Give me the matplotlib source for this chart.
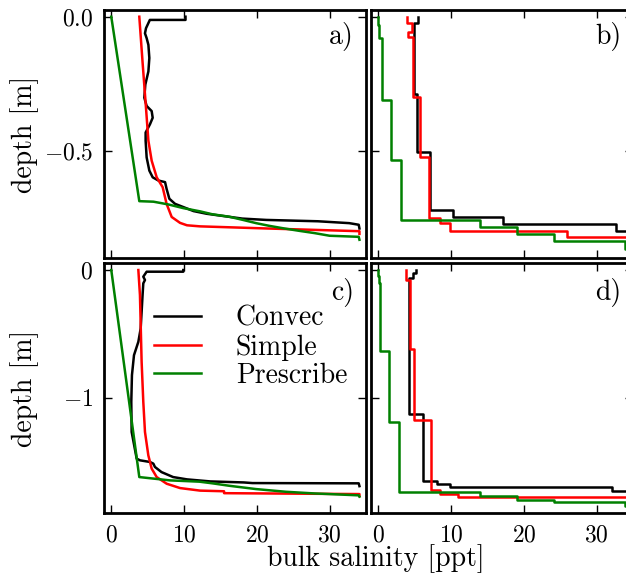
import matplotlib
matplotlib.use("Agg")
import matplotlib.pyplot as plt

# Computer Modern look (cmr10 ships with matplotlib), minus sign via mathtext
plt.rcParams['font.family'] = 'serif'
plt.rcParams['font.serif'] = ['cmr10']
plt.rcParams['mathtext.fontset'] = 'cm'
plt.rcParams['axes.formatter.use_mathtext'] = True

# --- panel a) : continuous profiles, thin ice ---
a_convec_S = [10.2, 10.2, 5.3, 4.77, 4.63, 4.86, 5.1, 5.23, 5.1, 4.68, 4.54, 4.86, 5.55,
              5.69, 5.32, 4.72, 4.72, 4.86, 5.23, 5.69, 6.47, 7.39, 7.6, 7.98, 8.76, 9.9,
              11.3, 13.1, 18.0, 21.3, 28.4, 32.7, 34.0, 34.1]
a_convec_d = [0.0, -0.012, -0.012, -0.043, -0.062, -0.08, -0.105, -0.154, -0.204, -0.253,
              -0.302, -0.333, -0.352, -0.377, -0.401, -0.432, -0.463, -0.525, -0.574,
              -0.599, -0.611, -0.617, -0.642, -0.679, -0.698, -0.710, -0.725, -0.735,
              -0.753, -0.758, -0.763, -0.770, -0.776, -0.790]
a_simple_S = [3.85, 4.3, 4.77, 5.1, 5.55, 6.24, 7.06, 7.6, 8.3, 9.45, 10.4, 12.2, 21.5, 34.1, 34.1]
a_simple_d = [0.0, -0.17, -0.34, -0.463, -0.537, -0.599, -0.636, -0.698, -0.747, -0.769,
              -0.778, -0.782, -0.790, -0.800, -0.81]
a_presc_S = [0, 3.85, 5.8, 7.8, 9.9, 12.2, 13.9, 16.2, 18.1, 19.9, 21.7, 23.8, 25.9, 27.9,
             30.0, 34.0, 34.1]
a_presc_d = [0, -0.688, -0.690, -0.700, -0.714, -0.726, -0.737, -0.746, -0.758, -0.770,
             -0.780, -0.790, -0.799, -0.807, -0.817, -0.821, -0.832]

# --- panel b) : layered (step) profiles, thin ice ---
b_convec_S = [5.5, 4.95, 5.28, 7.1, 10.2, 17.1, 32.6, 34.2]
b_convec_d = [0.0, -0.022, -0.29, -0.506, -0.722, -0.747, -0.772, -0.80]
b_simple_S = [3.9, 4.6, 4.1, 4.72, 5.73, 7.0, 8.5, 9.9, 25.9, 34.2]
b_simple_d = [0.0, -0.025, -0.056, -0.074, -0.30, -0.525, -0.749, -0.770, -0.798, -0.823]
b_presc_S = [0, 0.14, 0.46, 0.55, 1.74, 3.07, 14.0, 19.0, 24.1, 33.9, 34.2]
b_presc_d = [0, -0.03, -0.08, -0.10, -0.309, -0.535, -0.760, -0.786, -0.810, -0.835, -0.866]

# --- panel c) : continuous profiles, thick ice ---
c_convec_S = [9.9, 9.9, 4.86, 4.4, 4.63, 4.4, 4.3, 4.04, 3.72, 3.12, 2.84, 2.75, 2.8, 3.49,
              3.94, 5.32, 5.78, 6.0, 6.9, 8.5, 10.4, 13.6, 18.2, 19.4, 34.0, 34.1]
c_convec_d = [0, -0.013, -0.013, -0.052, -0.078, -0.104, -0.196, -0.457, -0.561, -0.666,
              -0.822, -1.031, -1.266, -1.475, -1.488, -1.501, -1.514, -1.54, -1.58, -1.619,
              -1.637, -1.653, -1.661, -1.666, -1.668, -1.69]
c_simple_S = [3.72, 3.94, 4.17, 4.4, 4.63, 5.09, 5.55, 6.24, 7.61, 9.45, 12.2, 15.5, 15.5, 34.1, 34.1]
c_simple_d = [0, -0.196, -0.718, -1.031, -1.266, -1.449, -1.553, -1.619, -1.671, -1.705,
              -1.725, -1.730, -1.745, -1.752, -1.767]
c_presc_S = [0, 3.85, 8.07, 12.1, 13.9, 16.2, 19.9, 24.0, 27.9, 30.0, 34.0, 34.1]
c_presc_d = [0, -1.619, -1.645, -1.655, -1.668, -1.687, -1.713, -1.734, -1.747, -1.752,
             -1.762, -1.772]

# --- panel d) : layered (step) profiles, thick ice ---
d_convec_S = [5.2, 4.8, 4.27, 6.19, 8.03, 9.86, 32.1, 34.2]
d_convec_d = [0, -0.026, -0.06, -1.123, -1.653, -1.671, -1.695, -1.725]
d_simple_S = [3.8, 4.36, 4.95, 7.2, 8.49, 10.9, 34.2]
d_simple_d = [0, -0.078, -0.619, -1.175, -1.723, -1.749, -1.775]
d_presc_S = [0, 0.14, 0.23, 1.51, 2.89, 14.0, 19.0, 24.1, 33.9, 34.2]
d_presc_d = [0, -0.05, -0.10, -0.634, -1.188, -1.736, -1.768, -1.799, -1.817, -1.845]

labels = ['Convec', 'Simple', 'Prescribe']
colors = ['k', 'r', 'g']
xticks = [0, 10, 20, 30]
yticks_top = [-0.5, 0.0]
yticks_bot = [-1, 0]

panels = [
    ('a)', [(a_convec_S, a_convec_d), (a_simple_S, a_simple_d), (a_presc_S, a_presc_d)], 'default'),
    ('b)', [(b_convec_S, b_convec_d), (b_simple_S, b_simple_d), (b_presc_S, b_presc_d)], 'steps-pre'),
    ('c)', [(c_convec_S, c_convec_d), (c_simple_S, c_simple_d), (c_presc_S, c_presc_d)], 'default'),
    ('d)', [(d_convec_S, d_convec_d), (d_simple_S, d_simple_d), (d_presc_S, d_presc_d)], 'steps-pre'),
]

fig = plt.figure(figsize=(6.26, 5.81), dpi=100)
W, H = 626.0, 581.0
lefts = [104 / W, 371 / W]
width = 262 / W
rows = [(1 - 258 / H, 248 / H), (1 - 513 / H, 250 / H)]

axes = []
for i, (tag, series, style) in enumerate(panels):
    r, c = divmod(i, 2)
    ax = fig.add_axes([lefts[c], rows[r][0], width, rows[r][1]])
    for (S, d), col, lab in zip(series, colors, labels):
        ax.plot(S, d, color=col, lw=1.8, drawstyle=style, label=lab)
    ax.set_xlim(-1, 35)
    if r == 0:
        ax.set_ylim(-0.9, 0.025)
        ax.set_yticks(yticks_top)
    else:
        ax.set_ylim(-1.9, 0.055)
        ax.set_yticks(yticks_bot)
    ax.set_xticks(xticks)
    ax.tick_params(direction='in', top=True, right=True, length=6, width=1,
                   labelsize=17, pad=8)
    if r == 0:
        ax.tick_params(labelbottom=False)
    if c == 1:
        ax.tick_params(labelleft=False)
    for sp in ax.spines.values():
        sp.set_linewidth(2)
    ax.text(0.955, 0.95 if r == 0 else 0.94, tag, transform=ax.transAxes,
            ha='right', va='top', fontsize=20)
    axes.append(ax)

axes[2].legend(loc='upper left', bbox_to_anchor=(0.19, 0.83), frameon=False,
               fontsize=20, handlelength=1.7, handletextpad=1.25, labelspacing=0.08,
               borderaxespad=0, borderpad=0)

fig.text(25 / W, 1 - 134 / H, 'depth [m]', rotation=90, ha='center', va='center', fontsize=20)
fig.text(25 / W, 1 - 388 / H, 'depth [m]', rotation=90, ha='center', va='center', fontsize=20)
fig.text(376 / W, 1 - 559 / H, 'bulk salinity [ppt]', ha='center', va='center', fontsize=20)

fig.savefig('out.png', dpi=100)
